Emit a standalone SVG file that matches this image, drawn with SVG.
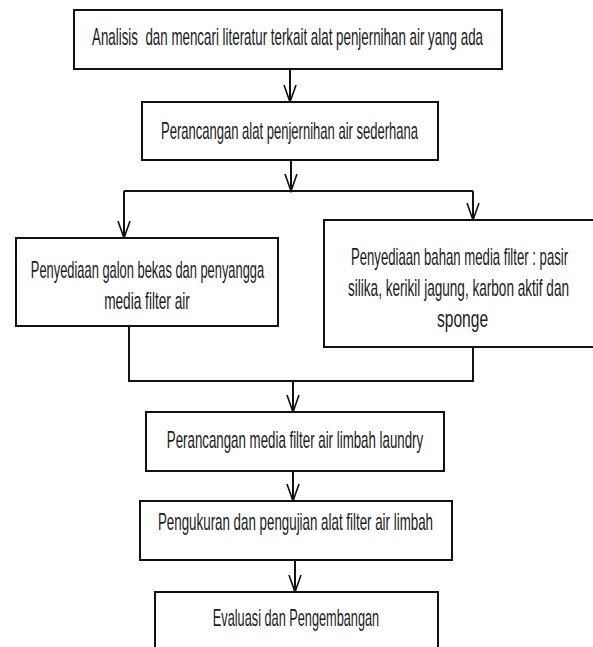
<svg xmlns="http://www.w3.org/2000/svg" width="593" height="647" viewBox="0 0 593 647">
<defs>
<style>
.box{fill:#fff;stroke:#111;stroke-width:2}
.t{font-family:"Liberation Sans Narrow","Liberation Sans",Arial,sans-serif;font-size:23px;fill:#1a1a1a;text-anchor:middle}
.c{fill:none;stroke:#111;stroke-width:2}
.ah{fill:none;stroke:#111;stroke-width:1.6}
</style>
</defs>
<rect width="593" height="647" fill="#fff"/>
<g id="connectors">
<line class="c" x1="290" y1="69" x2="290" y2="101"/>
<line class="c" x1="291" y1="160" x2="291" y2="190"/>
<path class="c" d="M124,191 H473"/>
<line class="c" x1="124" y1="191" x2="124" y2="237"/>
<line class="c" x1="473" y1="191" x2="473" y2="219"/>
<path class="c" d="M129,326 V381 H473 V347"/>
<line class="c" x1="293" y1="381" x2="293" y2="411"/>
<line class="c" x1="293" y1="471" x2="293" y2="500"/>
<line class="c" x1="295" y1="560" x2="295" y2="591"/>
<path class="ah" d="M284,85 L290,102 L296,85"/>
<path class="ah" d="M285,174 L291,191 L297,174"/>
<path class="ah" d="M118,221 L124,238 L130,221"/>
<path class="ah" d="M467,203 L473,220 L479,203"/>
<path class="ah" d="M287,395 L293,412 L299,395"/>
<path class="ah" d="M287,484 L293,501 L299,484"/>
<path class="ah" d="M289,575 L295,592 L301,575"/>
</g>
<g id="n1"><rect class="box" x="74" y="10" width="428" height="59"/>
<text class="t" transform="translate(287.5,45) scale(0.72,1)" textLength="543" lengthAdjust="spacingAndGlyphs" xml:space="preserve">Analisis  dan mencari literatur terkait alat penjernihan air yang ada</text></g>
<g id="n2"><rect class="box" x="142" y="102" width="296" height="58"/>
<text class="t" transform="translate(289.5,139) scale(0.72,1)" textLength="357" lengthAdjust="spacingAndGlyphs">Perancangan alat penjernihan air sederhana</text></g>
<g id="n3"><rect class="box" x="16" y="238" width="262" height="88"/>
<text class="t" transform="translate(147.5,278) scale(0.72,1)" textLength="324" lengthAdjust="spacingAndGlyphs">Penyediaan galon bekas dan penyangga</text>
<text class="t" transform="translate(147,309) scale(0.72,1)" textLength="119" lengthAdjust="spacingAndGlyphs">media filter air</text></g>
<g id="n4"><rect class="box" x="324" y="220" width="275" height="127"/>
<text class="t" transform="translate(459.5,265) scale(0.6,1)" textLength="362" lengthAdjust="spacingAndGlyphs">Penyediaan bahan media filter : pasir</text>
<text class="t" transform="translate(458.5,296) scale(0.65,1)" textLength="340" lengthAdjust="spacingAndGlyphs">silika, kerikil jagung, karbon aktif dan</text>
<text class="t" transform="translate(462.5,327) scale(0.72,1)" textLength="71" lengthAdjust="spacingAndGlyphs">sponge</text></g>
<g id="n5"><rect class="box" x="146" y="412" width="298" height="59"/>
<text class="t" transform="translate(295,448) scale(0.72,1)" textLength="356" lengthAdjust="spacingAndGlyphs">Perancangan media filter air limbah laundry</text></g>
<g id="n6"><rect class="box" x="140" y="501" width="312" height="59"/>
<text class="t" transform="translate(295.5,530) scale(0.72,1)" textLength="382" lengthAdjust="spacingAndGlyphs">Pengukuran dan pengujian alat filter air limbah</text></g>
<g id="n7"><rect class="box" x="155" y="592" width="283" height="70"/>
<text class="t" transform="translate(296,626) scale(0.72,1)" textLength="231" lengthAdjust="spacingAndGlyphs">Evaluasi dan Pengembangan</text></g>
</svg>
